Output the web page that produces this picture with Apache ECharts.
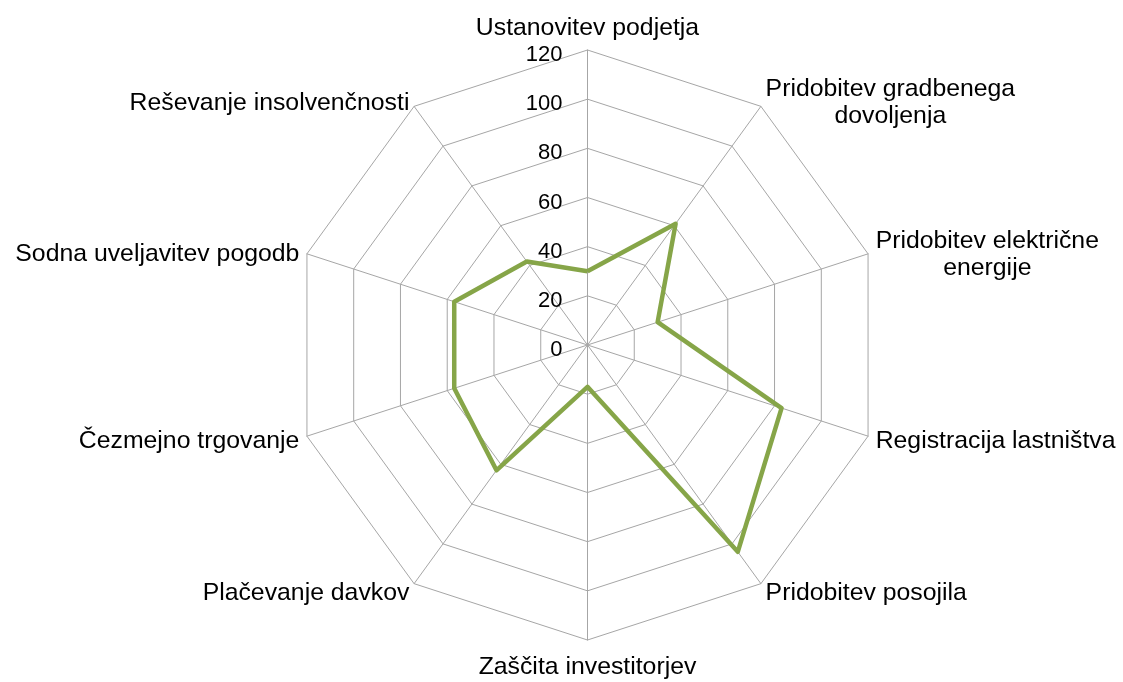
<!DOCTYPE html>
<html>
<head>
<meta charset="utf-8">
<title>Radar</title>
<script src="https://cdn.jsdelivr.net/npm/echarts@6/dist/echarts.min.js"></script>
<style>
  html, body { margin: 0; padding: 0; background: #fff; }
  #chart { width: 1123px; height: 682px; }
</style>
</head>
<body>
<div id="chart"></div>
<script>
// categories (clockwise from top)
var categories = [
    'Ustanovitev podjetja',
    'Pridobitev gradbenega\ndovoljenja',
    'Pridobitev električne\nenergije',
    'Registracija lastništva',
    'Pridobitev posojila',
    'Zaščita investitorjev',
    'Plačevanje davkov',
    'Čezmejno trgovanje',
    'Sodna uveljavitev pogodb',
    'Reševanje insolvenčnosti'
];
var values = [30, 61, 30, 83, 104, 17, 63, 57, 57, 42];
var axisMax = 120;
var axisStep = 20;

var cx = 587.5, cy = 345, radius = 295;
var font = 'Liberation Sans, Arial, sans-serif';

// echarts radar runs counter-clockwise, so keep the first one and reverse the rest
var order = [0];
for (var k = categories.length - 1; k > 0; k--) order.push(k);

var indicators = [], radarValues = [];
for (var i = 0; i < order.length; i++) {
    indicators.push({ name: categories[order[i]], min: 0, max: axisMax });
    radarValues.push(values[order[i]]);
}

var chart = echarts.init(document.getElementById('chart'));
chart.setOption({
    animation: false,
    backgroundColor: '#fff',
    // invisible cartesian axis only used for the 0..120 tick labels on the top spoke
    grid: { left: cx, width: 1, top: cy - radius + 5, height: radius },
    xAxis: { type: 'value', show: false },
    yAxis: {
        type: 'value', min: 0, max: axisMax, interval: axisStep,
        axisLine: { show: false }, axisTick: { show: false }, splitLine: { show: false },
        axisLabel: { margin: 25, color: '#000', fontSize: 22, fontFamily: font }
    },
    radar: {
        center: [cx, cy],
        radius: radius,
        startAngle: 90,
        shape: 'polygon',
        splitNumber: 6,
        indicator: indicators,
        nameGap: 8,
        axisName: {
            color: '#000',
            fontSize: 24.8,
            fontFamily: font,
            padding: [6, 0, 0, 0],
            formatter: function(name) {
                return '{c|' + name.split('\n').join('}\n{c|') + '}';
            },
            rich: {
                c: { align: 'center', color: '#000', fontSize: 24.8, fontFamily: font, lineHeight: 27 }
            }
        },
        axisLine: { lineStyle: { color: '#a6a6a6', width: 1 } },
        splitLine: { lineStyle: { color: '#a6a6a6', width: 1 } },
        splitArea: { show: false },
        axisTick: { show: false },
        axisLabel: { show: false }
    },
    series: [{
        type: 'radar',
        symbol: 'none',
        lineStyle: { color: '#86a548', width: 4.5 },
        itemStyle: { color: '#86a548' },
        data: [{ value: radarValues }]
    }]
});
</script>
</body>
</html>
